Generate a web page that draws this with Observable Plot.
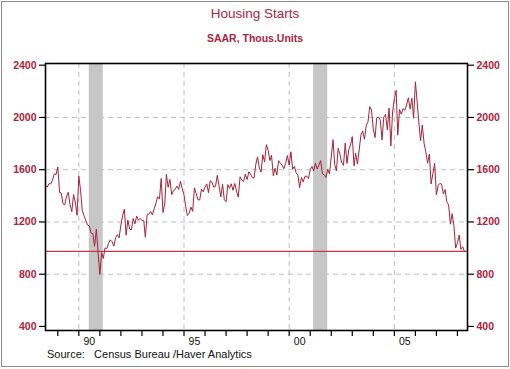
<!DOCTYPE html>
<html>
<head>
<meta charset="utf-8">
<script src="https://cdn.jsdelivr.net/npm/d3@7"></script>
<script src="https://cdn.jsdelivr.net/npm/@observablehq/plot@0.6"></script>
<style>
  html, body { margin: 0; padding: 0; background: #fff; }
  #wrap { position: relative; width: 510px; height: 369px; font-family: "Liberation Sans", Arial, sans-serif; overflow: hidden; }
  #border { position: absolute; left: 1px; top: 1px; width: 506px; height: 364px; border: 1px solid #8c8c8c; box-sizing: content-box; pointer-events: none; }
  .t { position: absolute; white-space: pre; }
  #title { left: 0; width: 510px; text-align: center; top: 6px; font-size: 13.5px; color: #ad2440; }
  #subtitle { left: 0; width: 510px; text-align: center; top: 32px; font-size: 10.5px; font-weight: bold; color: #ad2440; }
  #source { left: 47px; top: 348px; font-size: 11px; color: #111; }
  #chart { position: absolute; left: 0; top: 0; }
</style>
</head>
<body>
<div id="wrap">
  <div id="chart"></div>
  <div class="t" id="title">Housing Starts</div>
  <div class="t" id="subtitle">SAAR, Thous.Units</div>
  <div class="t" id="source">Source:   Census Bureau /Haver Analytics</div>
  <div id="border"></div>
</div>
<script>
// Monthly housing starts (SAAR, thousands), starting June 1988
const startYear = 1988, startMonth = 5; // June (0-based)
const starts1988 = [1478, 1467, 1493, 1492, 1522, 1569, 1563];
const starts1989 = [1621, 1425, 1422, 1339, 1331, 1397, 1427, 1332, 1279, 1410, 1351, 1251];
const starts1990 = [1551, 1437, 1289, 1248, 1212, 1177, 1171, 1115, 1110, 1014, 1145, 969];
const starts1991 = [798, 965, 921, 1001, 996, 1036, 1063, 1049, 1015, 1079, 1103, 1079];
const starts1992 = [1176, 1250, 1297, 1099, 1214, 1145, 1139, 1226, 1186, 1244, 1214, 1227];
const starts1993 = [1210, 1210, 1083, 1258, 1260, 1280, 1254, 1300, 1343, 1392, 1376, 1533];
const starts1994 = [1272, 1337, 1564, 1465, 1526, 1409, 1439, 1450, 1474, 1450, 1511, 1455];
const starts1995 = [1407, 1316, 1249, 1267, 1314, 1281, 1461, 1416, 1369, 1369, 1452, 1431];
const starts1996 = [1467, 1491, 1424, 1516, 1504, 1467, 1472, 1557, 1475, 1392, 1489, 1370];
const starts1997 = [1355, 1486, 1457, 1492, 1442, 1494, 1437, 1390, 1546, 1520, 1510, 1566];
const starts1998 = [1525, 1584, 1567, 1540, 1536, 1641, 1698, 1614, 1582, 1715, 1660, 1792];
const starts1999 = [1748, 1670, 1710, 1553, 1611, 1559, 1669, 1648, 1635, 1608, 1648, 1708];
const starts2000 = [1636, 1737, 1604, 1626, 1575, 1559, 1463, 1541, 1507, 1549, 1551, 1532];
const starts2001 = [1600, 1625, 1590, 1649, 1605, 1636, 1670, 1567, 1562, 1540, 1602, 1568];
const starts2002 = [1698, 1829, 1642, 1592, 1764, 1717, 1655, 1633, 1804, 1648, 1753, 1788];
const starts2003 = [1853, 1629, 1726, 1643, 1751, 1867, 1897, 1833, 1939, 1967, 2083, 2057];
const starts2004 = [1911, 1846, 1998, 2003, 1981, 1828, 2002, 2024, 1905, 2072, 1782, 2042];
const starts2005 = [2144, 2207, 1864, 2061, 2025, 2068, 2054, 2095, 2151, 2065, 2147, 1994];
const starts2006 = [2273, 2119, 1969, 1821, 1942, 1802, 1737, 1650, 1720, 1491, 1570, 1649];
const starts2007 = [1409, 1480, 1495, 1490, 1415, 1448, 1354, 1330, 1183, 1264, 1170, 1000];
const starts2008 = [1040, 1100, 990, 1010, 975];

const latestValue = 975;
const recessionStarts = ["1990-07-01", "2001-03-01"];
const recessionEnds = ["1991-03-01", "2001-11-01"];
const yTicks = [400, 800, 1200, 1600, 2000, 2400];
const yGrid = [800, 1200, 1600, 2000];
const gridYears = [1990, 1995, 2000, 2005];
const labelYears = [1990, 1995, 2000, 2005];
const labelTexts = ["90", "95", "00", "05"];
const tickYears = d3.range(1989, 2009);

const allValues = [].concat(starts1988, starts1989, starts1990, starts1991, starts1992, starts1993,
  starts1994, starts1995, starts1996, starts1997, starts1998, starts1999, starts2000, starts2001,
  starts2002, starts2003, starts2004, starts2005, starts2006, starts2007, starts2008);
const data = allValues.map((v, i) => ({date: new Date(Date.UTC(startYear, startMonth + i, 1)), value: v}));
const recessions = recessionStarts.map((s, i) => ({start: new Date(s), end: new Date(recessionEnds[i])}));
const yr = y => new Date(Date.UTC(y, 0, 1));
const midYr = y => new Date(Date.UTC(y, 6, 1));
const labelMap = new Map(labelYears.map((y, i) => [+midYr(y), labelTexts[i]]));

const red = "#ad2440";
const lineColor = "#a3243b";

const chart = Plot.plot({
  width: 510,
  height: 369,
  marginLeft: 45,
  marginRight: 43,
  marginTop: 63,
  marginBottom: 39,
  style: {fontFamily: "'Liberation Sans', Arial, sans-serif", background: "transparent", overflow: "visible"},
  x: {type: "utc", domain: [new Date(Date.UTC(1988, 5, 1)), new Date(Date.UTC(2008, 5, 24))]},
  y: {domain: [369, 2413]},
  marks: [
    Plot.gridY(yGrid, {stroke: "#c0c0c0", strokeOpacity: 1, strokeDasharray: "5,4", strokeWidth: 1}),
    Plot.gridX(gridYears.map(yr), {stroke: "#c0c0c0", strokeOpacity: 1, strokeDasharray: "5,4", strokeWidth: 1}),
    Plot.rect(recessions, {x1: "start", x2: "end", fill: "#c6c6c6"}),
    Plot.ruleY([latestValue], {stroke: "#c8344e", strokeWidth: 1.2}),
    Plot.line(data, {x: "date", y: "value", stroke: lineColor, strokeWidth: 1}),
    Plot.frame({stroke: "#000", strokeWidth: 1.6}),
    Plot.axisY(yTicks, {anchor: "left", tickSize: 6, tickFormat: () => "", stroke: "#000", strokeWidth: 1.2, label: null}),
    Plot.axisY(yTicks, {anchor: "left", tickSize: 0, tickPadding: 9, tickFormat: d => String(d), fill: red, fontSize: 10.5, fontWeight: "bold", label: null}),
    Plot.axisY(yTicks, {anchor: "right", tickSize: 6, tickFormat: () => "", stroke: "#000", strokeWidth: 1.2, label: null}),
    Plot.axisY(yTicks, {anchor: "right", tickSize: 0, tickPadding: 9, tickFormat: d => String(d), fill: red, fontSize: 10.5, fontWeight: "bold", label: null}),
    Plot.axisX(tickYears.map(yr), {anchor: "bottom", tickSize: 6, tickFormat: () => "", stroke: "#000", strokeWidth: 1.2, label: null}),
    Plot.axisX(labelYears.map(midYr), {anchor: "bottom", tickSize: 0, tickPadding: 7, tickFormat: d => labelMap.get(+d), fill: "#111", fontSize: 10.5, label: null})
  ]
});
document.getElementById("chart").appendChild(chart);
</script>
</body>
</html>
